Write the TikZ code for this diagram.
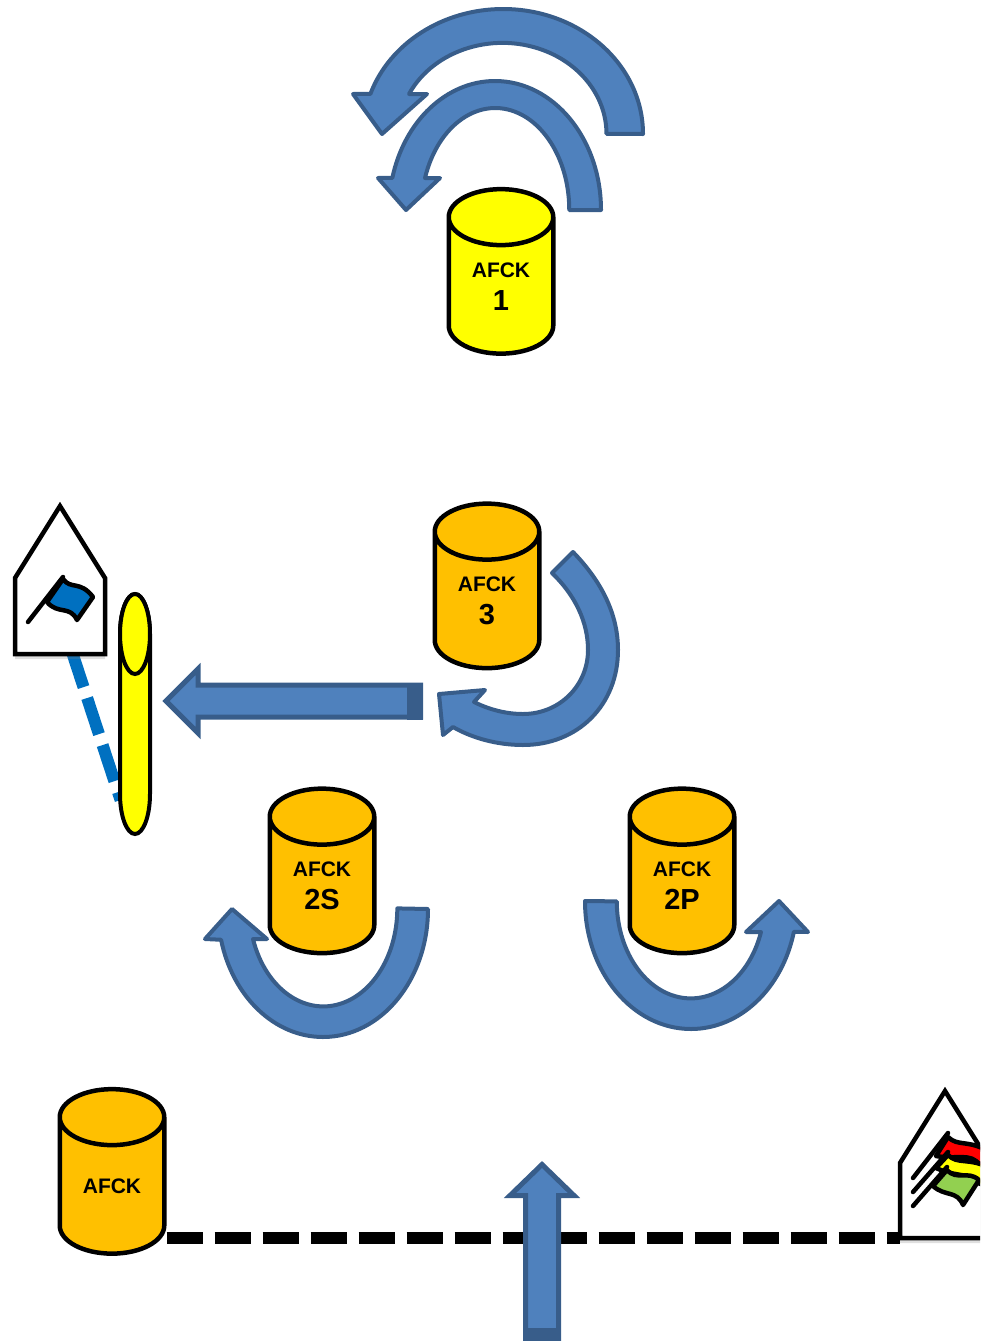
\documentclass[tikz,border=0pt]{standalone}
\usepackage{fontspec}
\setmainfont{Liberation Sans}
\usetikzlibrary{shapes.geometric,shadows}
\definecolor{arrowfill}{HTML}{4F81BD}
\definecolor{arrowedge}{HTML}{385D8A}
\definecolor{afckorange}{HTML}{FFC000}
\definecolor{afckyellow}{HTML}{FFFF00}
\definecolor{flagred}{HTML}{FF0000}
\definecolor{flagblue}{HTML}{0070C0}
\definecolor{flaggreen}{HTML}{92D050}
\tikzset{
  drum/.style={cylinder, shape border rotate=90, draw=black, line width=4.5pt, inner sep=0pt,
    minimum width=104.5pt, minimum height=164.5pt, aspect=0.96, align=center, cylinder uses custom fill,
    font=\fontsize{21}{24}\selectfont\bfseries},
  drumyellow/.style={drum, cylinder body fill=afckyellow, cylinder end fill=afckyellow},
  drumorange/.style={drum, cylinder body fill=afckorange, cylinder end fill=afckorange},
  thinbody/.style={draw=black, line width=4pt, fill=afckyellow},
  blockarrow/.style={draw=arrowedge, fill=arrowfill, line width=4pt, line join=round},
  straightarrow/.style={draw=arrowedge, fill=arrowfill, line width=5pt, line join=miter},
  tailband/.style={fill=arrowedge},
  housepath/.style={draw=black, line width=4.5pt, fill=white,
    drop shadow={opacity=0.25, shadow xshift=0pt, shadow yshift=-5pt}},
  flagpath/.style={draw=black, line width=4.5pt, line join=round, line cap=round},
  blacklink/.style={draw=black, line width=12pt, dash pattern=on 36pt off 12pt},
  bluelink/.style={draw=flagblue, line width=12pt, dash pattern=on 38pt off 11.5pt},
}
\newcommand{\numbersize}{\fontsize{29}{32}\selectfont}
\begin{document}
\begin{tikzpicture}[x=1pt, y=-1pt]
  \useasboundingbox (0,0) rectangle (980,1341);
  \clip (0,0) rectangle (980,1341);

  \coordinate (bluefoot) at (71.7,651);
  \coordinate (thinfoot) at (120.6,800);
  \coordinate (flagsfoot) at (900,1238);

  \path [bluelink] (bluefoot) edge node {} (thinfoot);

  \draw [housepath] (60,506) -- (105,578) -- (105,654) -- (15,654) -- (15,578) -- cycle;
  \draw [flagpath] (28,622) -- (63,577);
  \draw [flagpath, fill=flagblue] (63,579) .. controls (71,590) and (80,580) .. (93,597) -- (77,620)
    .. controls (70,605) and (58,615) .. (47,602) -- cycle;

  \draw [thinbody] (120,634) -- (120,794) arc[start angle=180, end angle=360, x radius=15pt, y radius=40pt]
    -- (150,634) arc[start angle=0, end angle=180, x radius=15pt, y radius=40pt] -- cycle;
  \draw [thinbody] (150,634) arc[start angle=0, end angle=360, x radius=15pt, y radius=40pt] -- cycle;

  \draw [blockarrow] (643,134) arc[start angle=0, end angle=161.3, x radius=140pt, y radius=125pt]
    -- (353,94) -- (382,134) -- (427,94) -- (409,94)
    arc[start angle=154, end angle=0, x radius=104pt, y radius=91pt] -- cycle;
  \draw [blockarrow] (601,210) arc[start angle=0, end angle=165.6, x radius=106pt, y radius=129pt]
    -- (378,178) -- (406,210) -- (440,178) -- (425,178)
    arc[start angle=161.7, end angle=0, x radius=74pt, y radius=102pt] -- cycle;
  \draw [blockarrow] (573,552) .. controls (605,585) and (618,618) .. (618,650)
    .. controls (618,705) and (578,745) .. (523,745) .. controls (497,745) and (472,738) .. (453,727)
    -- (443,735) -- (439,694) -- (485,690) -- (474,702)
    .. controls (490,710) and (507,714) .. (523,714) .. controls (560,714) and (588,685) .. (588,650)
    .. controls (588,622) and (575,595) .. (552,573) -- cycle;
  \draw [blockarrow] (428,909) arc[start angle=0, end angle=-166.1, x radius=105pt, y radius=128pt]
    -- (205,939) -- (232,909) -- (267,939) -- (253,939)
    arc[start angle=-161.8, end angle=0, x radius=74pt, y radius=98pt] -- cycle;
  \draw [blockarrow] (585,901) arc[start angle=180, end angle=346.1, x radius=106pt, y radius=128pt]
    -- (808,932) -- (779,901) -- (746,932) -- (761,932)
    arc[start angle=341.6, end angle=180, x radius=74pt, y radius=97pt] -- cycle;

  \draw [straightarrow] (420.5,685) -- (198,685) -- (198,669) -- (166,701) -- (198,733) -- (198,717)
    -- (420.5,717) -- cycle;
  \fill [tailband] (407,682.5) rectangle (423,719.5);

  \node [drumyellow] (afckone) at (501,286.5) {AFCK\\[9pt]{\numbersize 1}};
  \node [drumorange] (afckthree) at (487,601) {AFCK\\[9pt]{\numbersize 3}};
  \node [drumorange] (afcktwos) at (322,886) {AFCK\\[9pt]{\numbersize 2S}};
  \node [drumorange] (afcktwop) at (682,886) {AFCK\\[9pt]{\numbersize 2P}};
  \node [drumorange] (afck) at (112,1186.5) {AFCK};

  \path [blacklink] (afck.east |- flagsfoot) edge node {} (flagsfoot);

  \draw [straightarrow] (525.5,1341) -- (525.5,1195.5) -- (510,1195.5) -- (542,1164.5) -- (574,1195.5)
    -- (558.5,1195.5) -- (558.5,1341);
  \fill [tailband] (523,1328) rectangle (561,1341);

  \draw [housepath] (945,1091) -- (990,1163) -- (990,1238) -- (900,1238) -- (900,1163) -- cycle;
  \draw [flagpath] (913,1178) -- (948,1133);
  \draw [flagpath, fill=flagred] (948,1137) .. controls (958,1147) and (968,1139) .. (990,1152) -- (980,1165)
    .. controls (970,1152) and (958,1160) .. (936,1156) -- cycle;
  \draw [flagpath] (913,1192) -- (948,1152);
  \draw [flagpath, fill=afckyellow] (948,1155) .. controls (958,1165) and (968,1157) .. (990,1168) -- (980,1184)
    .. controls (970,1172) and (958,1178) .. (936,1168) -- cycle;
  \draw [flagpath] (913,1206) -- (947,1167);
  \draw [flagpath, fill=flaggreen] (947,1170) .. controls (957,1181) and (968,1170) .. (979,1180) -- (963,1205)
    .. controls (957,1190) and (945,1197) .. (933,1186) -- cycle;
\end{tikzpicture}
\end{document}
